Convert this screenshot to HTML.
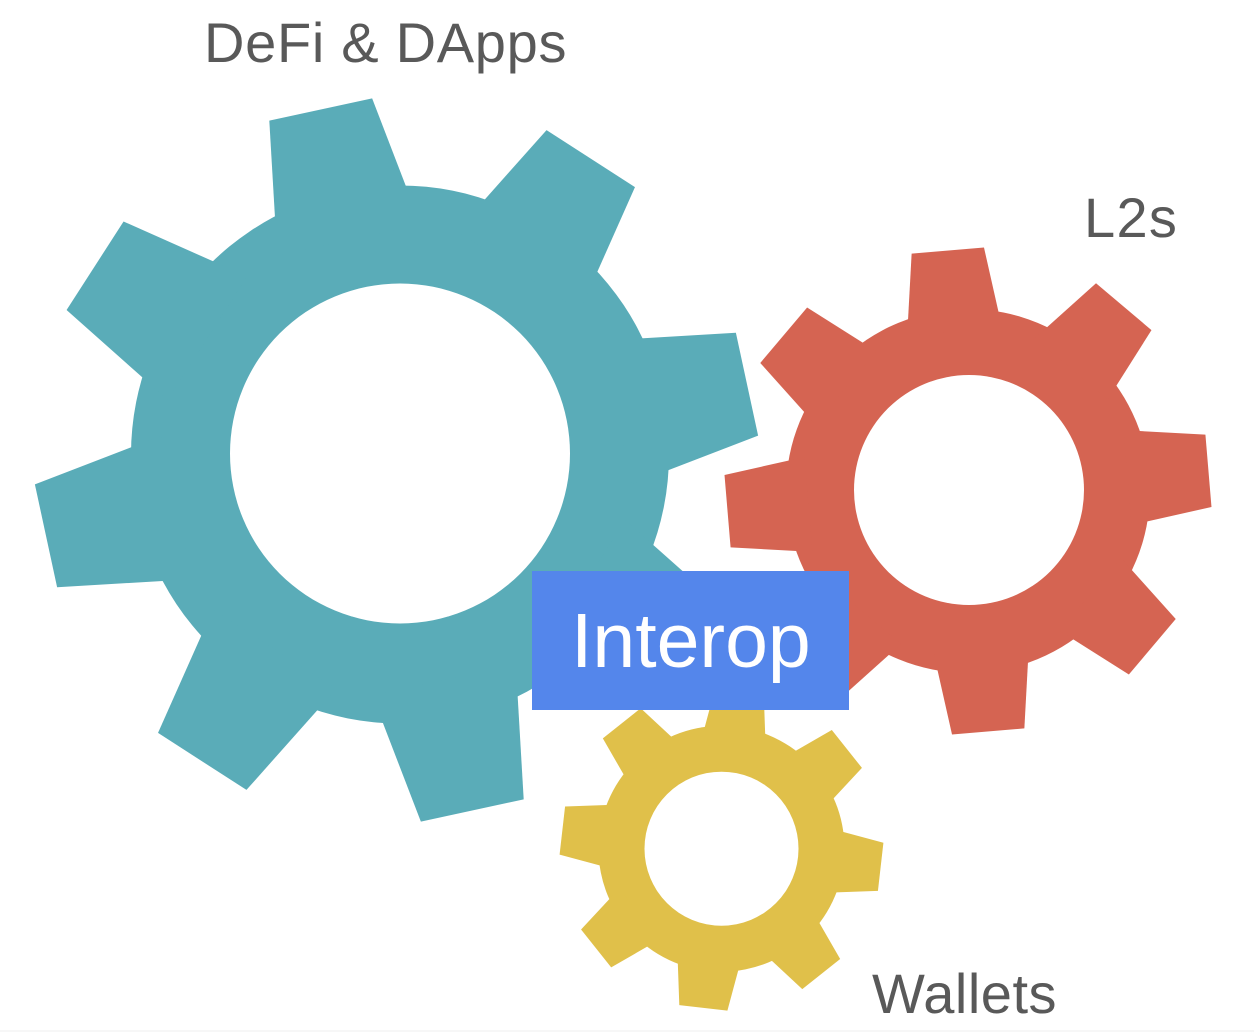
<!DOCTYPE html>
<html>
<head>
<meta charset="utf-8">
<style>
html,body{margin:0;padding:0;background:#ffffff;}
body{width:1254px;height:1032px;overflow:hidden;position:relative;}
svg{position:absolute;left:0;top:0;}
</style>
</head>
<body>
<svg width="1254" height="1032" viewBox="0 0 1254 1032" xmlns="http://www.w3.org/2000/svg">
  <rect x="0" y="0" width="1254" height="1032" fill="#ffffff"/>
  <rect x="0" y="1030" width="1254" height="2" fill="#f7f7f7"/>

  <!-- Teal gear -->
  <g fill="#5aacb8">
    <circle cx="400" cy="454.5" r="269"/>
    <g transform="translate(396.5,460)">
      <polygon points="-73.4,-225 -52.6,-358.6 52.6,-358.6 73.4,-225" transform="rotate(-12.2)"/>
      <polygon points="-73.4,-225 -52.6,-358.6 52.6,-358.6 73.4,-225" transform="rotate(32.8)"/>
      <polygon points="-73.4,-225 -52.6,-358.6 52.6,-358.6 73.4,-225" transform="rotate(77.8)"/>
      <polygon points="-73.4,-225 -52.6,-358.6 52.6,-358.6 73.4,-225" transform="rotate(122.8)"/>
      <polygon points="-73.4,-225 -52.6,-358.6 52.6,-358.6 73.4,-225" transform="rotate(167.8)"/>
      <polygon points="-73.4,-225 -52.6,-358.6 52.6,-358.6 73.4,-225" transform="rotate(212.8)"/>
      <polygon points="-73.4,-225 -52.6,-358.6 52.6,-358.6 73.4,-225" transform="rotate(257.8)"/>
      <polygon points="-73.4,-225 -52.6,-358.6 52.6,-358.6 73.4,-225" transform="rotate(302.8)"/>
    </g>
    <circle cx="400" cy="453.5" r="170" fill="#ffffff"/>
  </g>

  <!-- Red gear -->
  <g fill="#d56452">
    <g transform="translate(968,491)">
      <circle cx="0" cy="0" r="182"/>
      <polygon points="-47.6,-160 -36.3,-241.3 36.3,-241.3 47.6,-160" transform="rotate(-4.8)"/>
      <polygon points="-47.6,-160 -36.3,-241.3 36.3,-241.3 47.6,-160" transform="rotate(40.2)"/>
      <polygon points="-47.6,-160 -36.3,-241.3 36.3,-241.3 47.6,-160" transform="rotate(85.2)"/>
      <polygon points="-47.6,-160 -36.3,-241.3 36.3,-241.3 47.6,-160" transform="rotate(130.2)"/>
      <polygon points="-47.6,-160 -36.3,-241.3 36.3,-241.3 47.6,-160" transform="rotate(175.2)"/>
      <polygon points="-47.6,-160 -36.3,-241.3 36.3,-241.3 47.6,-160" transform="rotate(220.2)"/>
      <polygon points="-47.6,-160 -36.3,-241.3 36.3,-241.3 47.6,-160" transform="rotate(265.2)"/>
      <polygon points="-47.6,-160 -36.3,-241.3 36.3,-241.3 47.6,-160" transform="rotate(310.2)"/>
    </g>
    <circle cx="969" cy="490" r="115" fill="#ffffff"/>
  </g>

  <!-- Yellow gear -->
  <g fill="#e0c04a" transform="translate(721.5,848.7)">
    <circle cx="0" cy="0" r="123"/>
    <polygon points="-32.5,-105 -24.2,-160.2 24.2,-160.2 32.5,-105" transform="rotate(6.5)"/>
    <polygon points="-32.5,-105 -24.2,-160.2 24.2,-160.2 32.5,-105" transform="rotate(51.5)"/>
    <polygon points="-32.5,-105 -24.2,-160.2 24.2,-160.2 32.5,-105" transform="rotate(96.5)"/>
    <polygon points="-32.5,-105 -24.2,-160.2 24.2,-160.2 32.5,-105" transform="rotate(141.5)"/>
    <polygon points="-32.5,-105 -24.2,-160.2 24.2,-160.2 32.5,-105" transform="rotate(186.5)"/>
    <polygon points="-32.5,-105 -24.2,-160.2 24.2,-160.2 32.5,-105" transform="rotate(231.5)"/>
    <polygon points="-32.5,-105 -24.2,-160.2 24.2,-160.2 32.5,-105" transform="rotate(276.5)"/>
    <polygon points="-32.5,-105 -24.2,-160.2 24.2,-160.2 32.5,-105" transform="rotate(321.5)"/>
    <circle cx="0" cy="0" r="77" fill="#ffffff"/>
  </g>

  <!-- Interop box -->
  <rect x="532" y="571" width="317" height="139" fill="#5486eb"/>
  <text x="571" y="667" font-family="Liberation Sans, Arial, sans-serif" font-size="77" fill="#ffffff">Interop</text>

  <!-- Labels -->
  <text x="204" y="62" font-family="Liberation Sans, Arial, sans-serif" font-size="56" fill="#595959" letter-spacing="0.7">DeFi &amp; DApps</text>
  <text x="1084" y="237" font-family="Liberation Sans, Arial, sans-serif" font-size="56" fill="#595959" letter-spacing="1.3">L2s</text>
  <text x="872" y="1013" font-family="Liberation Sans, Arial, sans-serif" font-size="56" fill="#595959" letter-spacing="0.5">Wallets</text>
</svg>
</body>
</html>
